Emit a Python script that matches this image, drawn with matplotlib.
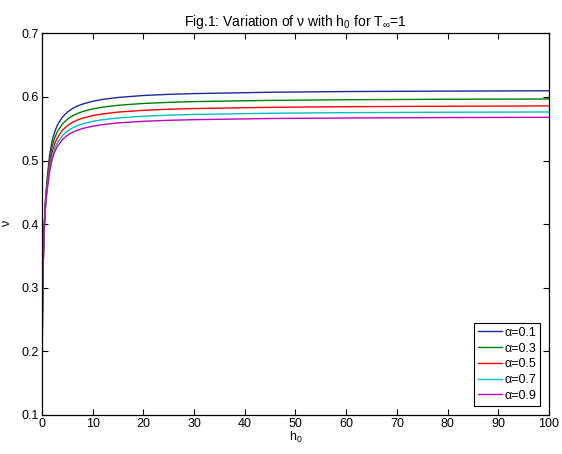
import numpy as np
import matplotlib.pyplot as plt

plt.rcParams['font.family'] = ['Liberation Sans', 'DejaVu Sans']
plt.rcParams['mathtext.fontset'] = 'custom'
plt.rcParams['mathtext.rm'] = 'Liberation Sans'
plt.rcParams['mathtext.it'] = 'Liberation Sans'

# h0 samples
h0 = [0, 0.05, 0.1, 0.2, 0.4, 0.7, 1.0, 1.5, 2, 2.5, 3, 4, 5, 6, 7, 8, 10, 12, 15, 20, 25,
      30, 45, 60, 80, 100]

# nu values for each alpha
nu_01 = [0.110, 0.200, 0.250, 0.320, 0.390, 0.440, 0.470, 0.508, 0.531, 0.5448, 0.555, 0.568,
         0.576, 0.5816, 0.5857, 0.5887, 0.5931, 0.5961, 0.5991, 0.6022, 0.6040, 0.6052,
         0.6073, 0.6084, 0.6091, 0.6096]
nu_03 = [0.140, 0.210, 0.255, 0.320, 0.390, 0.437, 0.465, 0.500, 0.522, 0.5353, 0.5448, 0.5571,
         0.5649, 0.5702, 0.5740, 0.5769, 0.5811, 0.5839, 0.5868, 0.5897, 0.5914, 0.5926,
         0.5945, 0.5955, 0.5963, 0.5967]
nu_05 = [0.163, 0.220, 0.260, 0.322, 0.388, 0.433, 0.460, 0.493, 0.513, 0.5261, 0.5353, 0.5473,
         0.5548, 0.5599, 0.5637, 0.5665, 0.5706, 0.5733, 0.5761, 0.5789, 0.5806, 0.5817,
         0.5836, 0.5846, 0.5853, 0.5858]
nu_07 = [0.183, 0.230, 0.265, 0.325, 0.386, 0.430, 0.456, 0.487, 0.5057, 0.5184, 0.5273, 0.5389,
         0.5462, 0.5512, 0.5549, 0.5576, 0.5616, 0.5642, 0.5669, 0.5696, 0.5713, 0.5724,
         0.5743, 0.5752, 0.5759, 0.5763]
nu_09 = [0.200, 0.240, 0.270, 0.330, 0.385, 0.427, 0.452, 0.482, 0.5014, 0.5134, 0.5217, 0.5327,
         0.5396, 0.5443, 0.5477, 0.5503, 0.5540, 0.5565, 0.5591, 0.5616, 0.5632, 0.5642,
         0.5660, 0.5668, 0.5675, 0.5679]

labels = ['α=0.1', 'α=0.3', 'α=0.5', 'α=0.7', 'α=0.9']
colors = ['#1a2a99', '#007f00', '#ff0000', '#00bfbf', '#bf00bf']

fig = plt.figure(figsize=(5.62, 4.54), dpi=100)
ax = fig.add_axes([0.0747, 0.086, 0.9022, 0.8407])

for ys, lab, c in zip([nu_01, nu_03, nu_05, nu_07, nu_09], labels, colors):
    ax.plot(h0, ys, color=c, lw=1.0, label=lab)

ax.set_xlim(0, 100)
ax.set_ylim(0.1, 0.7)
ax.set_xticks(np.arange(0, 101, 10))
ax.set_yticks(np.arange(0.1, 0.71, 0.1))
ax.set_yticklabels(['0.1', '0.2', '0.3', '0.4', '0.5', '0.6', '0.7'])
ax.tick_params(direction='in', top=True, right=True, length=4, width=0.8,
               labelsize=9, pad=2)
for s in ax.spines.values():
    s.set_linewidth(0.9)

ax.set_title(r'Fig.1: Variation of ν with h$_0$ for T$_\infty$=1', fontsize=10, pad=5)
ax.set_xlabel(r'h$_0$', fontsize=9, labelpad=0)
ax.set_ylabel('ν', fontsize=9, labelpad=6)

leg = ax.legend(loc='lower right', fontsize=9, handlelength=1.9, handletextpad=0.2,
                borderpad=0.3, labelspacing=0.3, fancybox=False, framealpha=1,
                borderaxespad=0.75)
leg.get_frame().set_edgecolor('black')
leg.get_frame().set_linewidth(0.8)

fig.savefig('out.png', dpi=100)
